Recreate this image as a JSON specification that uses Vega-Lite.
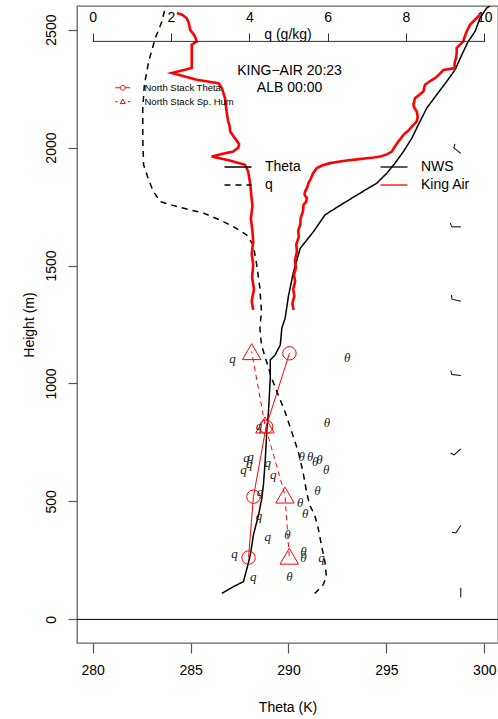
{
  "$schema": "https://vega.github.io/schema/vega-lite/v6.json",
  "width": 421,
  "height": 637,
  "autosize": {"type": "none"},
  "padding": {"left": 77, "top": 6, "right": 0, "bottom": 76},
  "title": {"text": ["KING−AIR 20:23", "ALB 00:00"], "orient": "top", "anchor": "middle", "offset": -89, "fontSize": 14, "fontWeight": "normal", "font": "Liberation Sans", "lineHeight": 17, "color": "black", "dx": 2},
  "datasets": {
    "profiles": [
      {"src":"NWS","var":"Theta","h":110,"v":286.60},{"src":"NWS","var":"Theta","h":139,"v":287.19},{"src":"NWS","var":"Theta","h":160,"v":287.70},{"src":"NWS","var":"Theta","h":216,"v":287.88},{"src":"NWS","var":"Theta","h":273,"v":288.05},{"src":"NWS","var":"Theta","h":358,"v":288.21},{"src":"NWS","var":"Theta","h":442,"v":288.47},{"src":"NWS","var":"Theta","h":513,"v":288.64},{"src":"NWS","var":"Theta","h":570,"v":288.72},{"src":"NWS","var":"Theta","h":670,"v":288.81},{"src":"NWS","var":"Theta","h":810,"v":288.90},{"src":"NWS","var":"Theta","h":881,"v":288.98},{"src":"NWS","var":"Theta","h":1022,"v":289.07},{"src":"NWS","var":"Theta","h":1100,"v":289.07},{"src":"NWS","var":"Theta","h":1121,"v":289.32},{"src":"NWS","var":"Theta","h":1163,"v":289.58},{"src":"NWS","var":"Theta","h":1234,"v":289.66},{"src":"NWS","var":"Theta","h":1277,"v":289.83},{"src":"NWS","var":"Theta","h":1371,"v":290.00},{"src":"NWS","var":"Theta","h":1475,"v":290.26},{"src":"NWS","var":"Theta","h":1573,"v":290.60},{"src":"NWS","var":"Theta","h":1644,"v":291.28},{"src":"NWS","var":"Theta","h":1715,"v":291.87},{"src":"NWS","var":"Theta","h":1764,"v":292.81},{"src":"NWS","var":"Theta","h":1807,"v":293.66},{"src":"NWS","var":"Theta","h":1849,"v":294.51},{"src":"NWS","var":"Theta","h":1891,"v":295.02},{"src":"NWS","var":"Theta","h":1934,"v":295.44},{"src":"NWS","var":"Theta","h":1983,"v":295.87},{"src":"NWS","var":"Theta","h":2040,"v":296.30},{"src":"NWS","var":"Theta","h":2096,"v":296.63},{"src":"NWS","var":"Theta","h":2167,"v":297.06},{"src":"NWS","var":"Theta","h":2224,"v":297.57},{"src":"NWS","var":"Theta","h":2280,"v":298.08},{"src":"NWS","var":"Theta","h":2330,"v":298.51},{"src":"NWS","var":"Theta","h":2393,"v":298.85},{"src":"NWS","var":"Theta","h":2450,"v":299.18},{"src":"NWS","var":"Theta","h":2492,"v":299.53},{"src":"NWS","var":"Theta","h":2549,"v":299.78},{"src":"NWS","var":"Theta","h":2591,"v":300.12},{"src":"NWS","var":"Theta","h":2620,"v":300.63},
      {"src":"King Air","var":"Theta","h":1312,"v":290.26},{"src":"King Air","var":"Theta","h":1340,"v":290.20},{"src":"King Air","var":"Theta","h":1370,"v":290.30},{"src":"King Air","var":"Theta","h":1400,"v":290.24},{"src":"King Air","var":"Theta","h":1432,"v":290.34},{"src":"King Air","var":"Theta","h":1460,"v":290.28},{"src":"King Air","var":"Theta","h":1490,"v":290.38},{"src":"King Air","var":"Theta","h":1520,"v":290.33},{"src":"King Air","var":"Theta","h":1559,"v":290.43},{"src":"King Air","var":"Theta","h":1590,"v":290.40},{"src":"King Air","var":"Theta","h":1620,"v":290.52},{"src":"King Air","var":"Theta","h":1650,"v":290.50},{"src":"King Air","var":"Theta","h":1672,"v":290.60},{"src":"King Air","var":"Theta","h":1700,"v":290.62},{"src":"King Air","var":"Theta","h":1730,"v":290.74},{"src":"King Air","var":"Theta","h":1757,"v":290.77},{"src":"King Air","var":"Theta","h":1770,"v":290.90},{"src":"King Air","var":"Theta","h":1785,"v":290.94},{"src":"King Air","var":"Theta","h":1800,"v":290.82},{"src":"King Air","var":"Theta","h":1814,"v":290.85},{"src":"King Air","var":"Theta","h":1830,"v":290.95},{"src":"King Air","var":"Theta","h":1849,"v":291.02},{"src":"King Air","var":"Theta","h":1870,"v":291.15},{"src":"King Air","var":"Theta","h":1890,"v":291.25},{"src":"King Air","var":"Theta","h":1913,"v":291.45},{"src":"King Air","var":"Theta","h":1925,"v":291.75},{"src":"King Air","var":"Theta","h":1934,"v":292.13},{"src":"King Air","var":"Theta","h":1940,"v":292.55},{"src":"King Air","var":"Theta","h":1945,"v":292.98},{"src":"King Air","var":"Theta","h":1950,"v":293.50},{"src":"King Air","var":"Theta","h":1955,"v":294.00},{"src":"King Air","var":"Theta","h":1958,"v":294.35},{"src":"King Air","var":"Theta","h":1962,"v":294.68},{"src":"King Air","var":"Theta","h":1970,"v":295.00},{"src":"King Air","var":"Theta","h":1983,"v":295.28},{"src":"King Air","var":"Theta","h":2000,"v":295.40},{"src":"King Air","var":"Theta","h":2026,"v":295.61},{"src":"King Air","var":"Theta","h":2040,"v":295.75},{"src":"King Air","var":"Theta","h":2054,"v":295.87},{"src":"King Air","var":"Theta","h":2070,"v":296.10},{"src":"King Air","var":"Theta","h":2089,"v":296.30},{"src":"King Air","var":"Theta","h":2111,"v":296.55},{"src":"King Air","var":"Theta","h":2130,"v":296.60},{"src":"King Air","var":"Theta","h":2153,"v":296.55},{"src":"King Air","var":"Theta","h":2170,"v":296.42},{"src":"King Air","var":"Theta","h":2181,"v":296.38},{"src":"King Air","var":"Theta","h":2209,"v":296.46},{"src":"King Air","var":"Theta","h":2225,"v":296.70},{"src":"King Air","var":"Theta","h":2238,"v":296.89},{"src":"King Air","var":"Theta","h":2266,"v":296.97},{"src":"King Air","var":"Theta","h":2280,"v":297.20},{"src":"King Air","var":"Theta","h":2294,"v":297.48},{"src":"King Air","var":"Theta","h":2310,"v":297.70},{"src":"King Air","var":"Theta","h":2329,"v":297.91},{"src":"King Air","var":"Theta","h":2337,"v":298.50},{"src":"King Air","var":"Theta","h":2350,"v":298.48},{"src":"King Air","var":"Theta","h":2365,"v":298.50},{"src":"King Air","var":"Theta","h":2380,"v":298.56},{"src":"King Air","var":"Theta","h":2400,"v":298.59},{"src":"King Air","var":"Theta","h":2422,"v":298.59},{"src":"King Air","var":"Theta","h":2435,"v":298.75},{"src":"King Air","var":"Theta","h":2450,"v":298.93},{"src":"King Air","var":"Theta","h":2470,"v":299.00},{"src":"King Air","var":"Theta","h":2492,"v":299.10},{"src":"King Air","var":"Theta","h":2520,"v":299.27},{"src":"King Air","var":"Theta","h":2549,"v":299.61},{"src":"King Air","var":"Theta","h":2563,"v":299.78},
      {"src":"NWS","var":"q","h":110,"v":5.67},{"src":"NWS","var":"q","h":145,"v":5.88},{"src":"NWS","var":"q","h":181,"v":5.97},{"src":"NWS","var":"q","h":245,"v":5.93},{"src":"NWS","var":"q","h":315,"v":5.84},{"src":"NWS","var":"q","h":386,"v":5.76},{"src":"NWS","var":"q","h":442,"v":5.67},{"src":"NWS","var":"q","h":485,"v":5.54},{"src":"NWS","var":"q","h":542,"v":5.46},{"src":"NWS","var":"q","h":626,"v":5.37},{"src":"NWS","var":"q","h":711,"v":5.25},{"src":"NWS","var":"q","h":796,"v":5.08},{"src":"NWS","var":"q","h":881,"v":4.91},{"src":"NWS","var":"q","h":951,"v":4.74},{"src":"NWS","var":"q","h":1022,"v":4.57},{"src":"NWS","var":"q","h":1093,"v":4.44},{"src":"NWS","var":"q","h":1163,"v":4.31},{"src":"NWS","var":"q","h":1234,"v":4.27},{"src":"NWS","var":"q","h":1305,"v":4.31},{"src":"NWS","var":"q","h":1404,"v":4.27},{"src":"NWS","var":"q","h":1503,"v":4.19},{"src":"NWS","var":"q","h":1587,"v":4.10},{"src":"NWS","var":"q","h":1630,"v":3.93},{"src":"NWS","var":"q","h":1665,"v":3.59},{"src":"NWS","var":"q","h":1693,"v":3.25},{"src":"NWS","var":"q","h":1722,"v":2.83},{"src":"NWS","var":"q","h":1750,"v":2.15},{"src":"NWS","var":"q","h":1771,"v":1.72},{"src":"NWS","var":"q","h":1814,"v":1.55},{"src":"NWS","var":"q","h":1863,"v":1.43},{"src":"NWS","var":"q","h":1927,"v":1.30},{"src":"NWS","var":"q","h":2040,"v":1.28},{"src":"NWS","var":"q","h":2167,"v":1.28},{"src":"NWS","var":"q","h":2266,"v":1.32},{"src":"NWS","var":"q","h":2365,"v":1.43},{"src":"NWS","var":"q","h":2464,"v":1.60},{"src":"NWS","var":"q","h":2535,"v":1.77},{"src":"NWS","var":"q","h":2591,"v":1.85},{"src":"NWS","var":"q","h":2620,"v":1.92},
      {"src":"King Air","var":"q","h":1312,"v":4.10},{"src":"King Air","var":"q","h":1350,"v":4.06},{"src":"King Air","var":"q","h":1400,"v":4.12},{"src":"King Air","var":"q","h":1450,"v":4.07},{"src":"King Air","var":"q","h":1503,"v":4.10},{"src":"King Air","var":"q","h":1550,"v":4.06},{"src":"King Air","var":"q","h":1600,"v":4.10},{"src":"King Air","var":"q","h":1644,"v":4.08},{"src":"King Air","var":"q","h":1700,"v":4.04},{"src":"King Air","var":"q","h":1750,"v":4.08},{"src":"King Air","var":"q","h":1785,"v":4.06},{"src":"King Air","var":"q","h":1850,"v":4.02},{"src":"King Air","var":"q","h":1899,"v":3.97},{"src":"King Air","var":"q","h":1927,"v":3.89},{"src":"King Air","var":"q","h":1945,"v":3.50},{"src":"King Air","var":"q","h":1962,"v":3.04},{"src":"King Air","var":"q","h":1975,"v":3.35},{"src":"King Air","var":"q","h":1983,"v":3.59},{"src":"King Air","var":"q","h":2000,"v":3.72},{"src":"King Air","var":"q","h":2015,"v":3.74},{"src":"King Air","var":"q","h":2040,"v":3.63},{"src":"King Air","var":"q","h":2068,"v":3.51},{"src":"King Air","var":"q","h":2090,"v":3.50},{"src":"King Air","var":"q","h":2111,"v":3.46},{"src":"King Air","var":"q","h":2153,"v":3.42},{"src":"King Air","var":"q","h":2180,"v":3.40},{"src":"King Air","var":"q","h":2209,"v":3.38},{"src":"King Air","var":"q","h":2252,"v":3.30},{"src":"King Air","var":"q","h":2273,"v":3.21},{"src":"King Air","var":"q","h":2287,"v":2.66},{"src":"King Air","var":"q","h":2316,"v":2.02},{"src":"King Air","var":"q","h":2337,"v":2.53},{"src":"King Air","var":"q","h":2380,"v":2.53},{"src":"King Air","var":"q","h":2436,"v":2.53},{"src":"King Air","var":"q","h":2450,"v":2.66},{"src":"King Air","var":"q","h":2475,"v":2.60},{"src":"King Air","var":"q","h":2499,"v":2.49},{"src":"King Air","var":"q","h":2530,"v":2.45},{"src":"King Air","var":"q","h":2549,"v":2.40},{"src":"King Air","var":"q","h":2563,"v":2.28},{"src":"King Air","var":"q","h":2570,"v":2.15}
    ],
    "stack": [
      {"series":"North Stack Theta","h":262,"v":287.96},{"series":"North Stack Theta","h":520,"v":288.21},{"series":"North Stack Theta","h":817,"v":288.86},{"series":"North Stack Theta","h":1128,"v":290.05},
      {"series":"North Stack Sp. Hum","h":268,"v":5.02},{"series":"North Stack Sp. Hum","h":527,"v":4.91},{"series":"North Stack Sp. Hum","h":824,"v":4.40},{"series":"North Stack Sp. Hum","h":1135,"v":4.06}
    ],
    "letters": [
      {"sym":"θ","h":1107,"v":293.0},{"sym":"θ","h":831,"v":291.96},{"sym":"θ","h":690,"v":290.68},{"sym":"θ","h":690,"v":291.11},{"sym":"θ","h":669,"v":291.36},{"sym":"θ","h":676,"v":291.58},{"sym":"θ","h":633,"v":291.92},{"sym":"θ","h":544,"v":291.48},{"sym":"θ","h":492,"v":290.60},{"sym":"θ","h":445,"v":290.85},{"sym":"θ","h":358,"v":289.95},{"sym":"θ","h":287,"v":290.77},{"sym":"θ","h":262,"v":290.77},{"sym":"θ","h":181,"v":290.05},
      {"sym":"q","h":1104,"v":3.57},{"sym":"q","h":821,"v":4.25},{"sym":"q","h":686,"v":3.93},{"sym":"q","h":690,"v":4.03},{"sym":"q","h":633,"v":3.85},{"sym":"q","h":657,"v":4.00},{"sym":"q","h":665,"v":4.47},{"sym":"q","h":612,"v":4.61},{"sym":"q","h":542,"v":4.27},{"sym":"q","h":440,"v":4.25},{"sym":"q","h":351,"v":4.47},{"sym":"q","h":276,"v":3.62},{"sym":"q","h":181,"v":4.10},{"sym":"q","h":259,"v":5.84}
    ],
    "barbs": [
      {"h":1975,"dir":309,"barb":"half"},{"h":1664,"dir":270,"barb":"half"},{"h":1349,"dir":283,"barb":"half"},{"h":1034,"dir":276,"barb":"half"},{"h":723,"dir":228,"barb":"half"},{"h":398,"dir":213,"barb":"half"},{"h":134,"dir":180,"barb":"none"}
    ]
  },
  "layer": [
    {
      "layer": [
        {
          "encoding": {
            "x": {"field": "v", "type": "quantitative", "scale": {"domain": [279.2, 300.7], "nice": false, "zero": false},
              "axis": {"orient": "bottom", "values": [280, 285, 290, 295, 300], "tickSize": 10, "tickColor": "#555", "tickWidth": 1.2, "domain": false, "grid": false, "labelFont": "Liberation Sans", "labelFontSize": 14, "labelColor": "black", "labelPadding": 10, "title": "Theta (K)", "titleFont": "Liberation Sans", "titleFontSize": 14, "titleFontWeight": "normal", "titleColor": "black", "titlePadding": 23}},
            "y": {"field": "h", "type": "quantitative", "scale": {"domain": [-100, 2600], "nice": false, "zero": false},
              "axis": {"values": [0, 500, 1000, 1500, 2000, 2500], "format": "d", "labelAngle": 270, "labelAlign": "center", "labelBaseline": "bottom", "tickSize": 9, "tickColor": "#555", "tickWidth": 1.2, "domain": false, "grid": false, "labelFont": "Liberation Sans", "labelFontSize": 14, "labelColor": "black", "labelPadding": 10, "title": "Height (m)", "titleFont": "Liberation Sans", "titleFontSize": 14, "titleFontWeight": "normal", "titleColor": "black", "titlePadding": 8}}
          },
          "layer": [
            {"data": {"name": "profiles"}, "transform": [{"filter": "datum.src === 'NWS' && datum.var === 'Theta'"}],
              "mark": {"type": "line", "strokeWidth": 1.5, "clip": true},
              "encoding": {"order": {"field": "h", "type": "quantitative"},
                "color": {"field": "src", "type": "nominal", "scale": {"domain": ["NWS", "King Air"], "range": ["black", "red"]},
                  "legend": {"orient": "none", "legendX": 310, "legendY": 154, "title": null, "symbolType": "M-2.25,0L2.25,0", "symbolSize": 144, "symbolStrokeWidth": 1.3, "labelFont": "Liberation Sans", "labelFontSize": 14, "labelColor": "black", "labelOffset": 20, "rowPadding": 4, "padding": 0}},
                "strokeDash": {"field": "var", "type": "nominal", "scale": {"domain": ["Theta", "q"], "range": [[1, 0], [6, 5]]},
                  "legend": {"orient": "none", "legendX": 154, "legendY": 154, "title": null, "symbolType": "M-2.25,0L2.25,0", "symbolSize": 144, "symbolStrokeWidth": 1.3, "symbolStrokeColor": "black", "labelFont": "Liberation Sans", "labelFontSize": 14, "labelColor": "black", "labelOffset": 20, "rowPadding": 4, "padding": 0}}}},
            {"data": {"name": "profiles"}, "transform": [{"filter": "datum.src === 'King Air' && datum.var === 'Theta'"}],
              "mark": {"type": "line", "strokeWidth": 2.6, "color": "red", "clip": true},
              "encoding": {"order": {"field": "h", "type": "quantitative"}}},
            {"data": {"name": "stack"}, "transform": [{"filter": "datum.series === 'North Stack Theta'"}],
              "mark": {"type": "line", "strokeWidth": 1, "color": "red"},
              "encoding": {"order": {"field": "h", "type": "quantitative"}}},
            {"data": {"name": "stack"}, "transform": [{"filter": "datum.series === 'North Stack Theta'"}],
              "mark": {"type": "point", "shape": "circle", "filled": false, "color": "red", "strokeWidth": 1, "size": 180, "opacity": 1}},
            {"data": {"name": "stack"}, "transform": [{"filter": "datum.h < 0"}],
              "mark": {"type": "point", "filled": false, "color": "red", "strokeWidth": 1, "opacity": 1},
              "encoding": {"shape": {"field": "series", "type": "nominal",
                "scale": {"domain": ["North Stack Theta", "North Stack Sp. Hum"], "range": ["M-2.5,0L-0.8,0M0.8,0L2.5,0M-0.8,0A0.8,0.8,0,1,1,0.8,0A0.8,0.8,0,1,1,-0.8,0", "M-2.5,0L-1.7,0M1.7,0L2.5,0M0,-0.9L0.85,0.6L-0.85,0.6Z"]},
                "legend": {"orient": "none", "legendX": 41, "legendY": 77, "title": null, "symbolSize": 36, "symbolStrokeColor": "red", "symbolFillColor": "transparent", "symbolStrokeWidth": 1, "symbolOpacity": 1, "labelFont": "Liberation Sans", "labelFontSize": 9.5, "labelColor": "black", "labelOffset": 17, "rowPadding": 3, "padding": 0}}}},
            {"data": {"name": "letters"}, "transform": [{"filter": "datum.sym === 'θ'"}],
              "mark": {"type": "text", "font": "Liberation Serif", "fontStyle": "italic", "fontSize": 13, "color": "#222"},
              "encoding": {"text": {"field": "sym"}}}
          ]
        },
        {"data": {"values": [{}]}, "mark": {"type": "rule", "color": "black", "strokeWidth": 1},
          "encoding": {"y": {"datum": 0, "type": "quantitative", "scale": {"domain": [-100, 2600], "nice": false, "zero": false},
            "axis": {"values": [0, 500, 1000, 1500, 2000, 2500], "format": "d", "labelAngle": 270, "labelAlign": "center", "labelBaseline": "bottom", "tickSize": 9, "tickColor": "#555", "tickWidth": 1.2, "domain": false, "grid": false, "labelFont": "Liberation Sans", "labelFontSize": 14, "labelColor": "black", "labelPadding": 10, "title": "Height (m)", "titleFont": "Liberation Sans", "titleFontSize": 14, "titleFontWeight": "normal", "titleColor": "black", "titlePadding": 8}}}},
        {"data": {"name": "barbs"}, "transform": [{"filter": "datum.barb === 'half'"}],
          "mark": {"type": "point", "shape": "M0,0L0,-1.8L0.75,-2.1", "filled": false, "color": "black", "strokeWidth": 1, "size": 100, "opacity": 1},
          "encoding": {
            "x": {"datum": 298.8, "type": "quantitative", "scale": {"domain": [279.2, 300.7], "nice": false, "zero": false},
              "axis": {"orient": "bottom", "values": [280, 285, 290, 295, 300], "tickSize": 10, "tickColor": "#555", "tickWidth": 1.2, "domain": false, "grid": false, "labelFont": "Liberation Sans", "labelFontSize": 14, "labelColor": "black", "labelPadding": 10, "title": "Theta (K)", "titleFont": "Liberation Sans", "titleFontSize": 14, "titleFontWeight": "normal", "titleColor": "black", "titlePadding": 23}},
            "y": {"field": "h", "type": "quantitative", "scale": {"domain": [-100, 2600], "nice": false, "zero": false},
              "axis": {"values": [0, 500, 1000, 1500, 2000, 2500], "format": "d", "labelAngle": 270, "labelAlign": "center", "labelBaseline": "bottom", "tickSize": 9, "tickColor": "#555", "tickWidth": 1.2, "domain": false, "grid": false, "labelFont": "Liberation Sans", "labelFontSize": 14, "labelColor": "black", "labelPadding": 10, "title": "Height (m)", "titleFont": "Liberation Sans", "titleFontSize": 14, "titleFontWeight": "normal", "titleColor": "black", "titlePadding": 8}},
            "angle": {"field": "dir", "type": "quantitative", "scale": null}}},
        {"data": {"name": "barbs"}, "transform": [{"filter": "datum.barb === 'none'"}],
          "mark": {"type": "point", "shape": "M0,0L0,-1.9", "filled": false, "color": "black", "strokeWidth": 1, "size": 100, "opacity": 1},
          "encoding": {
            "x": {"datum": 298.8, "type": "quantitative", "scale": {"domain": [279.2, 300.7], "nice": false, "zero": false},
              "axis": {"orient": "bottom", "values": [280, 285, 290, 295, 300], "tickSize": 10, "tickColor": "#555", "tickWidth": 1.2, "domain": false, "grid": false, "labelFont": "Liberation Sans", "labelFontSize": 14, "labelColor": "black", "labelPadding": 10, "title": "Theta (K)", "titleFont": "Liberation Sans", "titleFontSize": 14, "titleFontWeight": "normal", "titleColor": "black", "titlePadding": 23}},
            "y": {"field": "h", "type": "quantitative", "scale": {"domain": [-100, 2600], "nice": false, "zero": false},
              "axis": {"values": [0, 500, 1000, 1500, 2000, 2500], "format": "d", "labelAngle": 270, "labelAlign": "center", "labelBaseline": "bottom", "tickSize": 9, "tickColor": "#555", "tickWidth": 1.2, "domain": false, "grid": false, "labelFont": "Liberation Sans", "labelFontSize": 14, "labelColor": "black", "labelPadding": 10, "title": "Height (m)", "titleFont": "Liberation Sans", "titleFontSize": 14, "titleFontWeight": "normal", "titleColor": "black", "titlePadding": 8}},
            "angle": {"field": "dir", "type": "quantitative", "scale": null}}}
      ]
    },
    {
      "layer": [
        {
          "encoding": {
            "x": {"field": "v", "type": "quantitative", "scale": {"domain": [-0.4, 10.35], "nice": false, "zero": false},
              "axis": {"orient": "top", "offset": -35.5, "values": [0, 2, 4, 6, 8, 10], "tickSize": 8.5, "tickColor": "#333", "tickWidth": 1, "domain": false, "grid": false, "labelFont": "Liberation Sans", "labelFontSize": 14, "labelColor": "black", "labelPadding": 9, "title": "q (g/kg)", "titleFont": "Liberation Sans", "titleFontSize": 14, "titleFontWeight": "normal", "titleColor": "black", "titleY": -3, "titleBaseline": "alphabetic"}},
            "y": {"field": "h", "type": "quantitative", "scale": {"domain": [-100, 2600], "nice": false, "zero": false},
              "axis": {"values": [0, 500, 1000, 1500, 2000, 2500], "format": "d", "labelAngle": 270, "labelAlign": "center", "labelBaseline": "bottom", "tickSize": 9, "tickColor": "#555", "tickWidth": 1.2, "domain": false, "grid": false, "labelFont": "Liberation Sans", "labelFontSize": 14, "labelColor": "black", "labelPadding": 10, "title": "Height (m)", "titleFont": "Liberation Sans", "titleFontSize": 14, "titleFontWeight": "normal", "titleColor": "black", "titlePadding": 8}}
          },
          "layer": [
            {"data": {"name": "profiles"}, "transform": [{"filter": "datum.src === 'NWS' && datum.var === 'q'"}],
              "mark": {"type": "line", "strokeWidth": 1.5, "color": "black", "strokeDash": [6, 5], "clip": true},
              "encoding": {"order": {"field": "h", "type": "quantitative"}}},
            {"data": {"name": "profiles"}, "transform": [{"filter": "datum.src === 'King Air' && datum.var === 'q'"}],
              "mark": {"type": "line", "strokeWidth": 2.6, "color": "red", "clip": true},
              "encoding": {"order": {"field": "h", "type": "quantitative"}}},
            {"data": {"name": "stack"}, "transform": [{"filter": "datum.series === 'North Stack Sp. Hum'"}],
              "mark": {"type": "line", "strokeWidth": 1, "color": "red", "strokeDash": [5, 4]},
              "encoding": {"order": {"field": "h", "type": "quantitative"}}},
            {"data": {"name": "stack"}, "transform": [{"filter": "datum.series === 'North Stack Sp. Hum'"}],
              "mark": {"type": "point", "shape": "triangle-up", "filled": false, "color": "red", "strokeWidth": 1, "size": 340, "opacity": 1}},
            {"data": {"name": "letters"}, "transform": [{"filter": "datum.sym === 'q'"}],
              "mark": {"type": "text", "font": "Liberation Serif", "fontStyle": "italic", "fontSize": 13, "color": "#222"},
              "encoding": {"text": {"field": "sym"}}}
          ]
        },
        {"data": {"values": [{}]}, "mark": {"type": "rule", "color": "#333", "strokeWidth": 1},
          "encoding": {
            "x": {"datum": 0, "type": "quantitative", "scale": {"domain": [-0.4, 10.35], "nice": false, "zero": false},
              "axis": {"orient": "top", "offset": -35.5, "values": [0, 2, 4, 6, 8, 10], "tickSize": 8.5, "tickColor": "#333", "tickWidth": 1, "domain": false, "grid": false, "labelFont": "Liberation Sans", "labelFontSize": 14, "labelColor": "black", "labelPadding": 9, "title": "q (g/kg)", "titleFont": "Liberation Sans", "titleFontSize": 14, "titleFontWeight": "normal", "titleColor": "black", "titleY": -3, "titleBaseline": "alphabetic"}},
            "x2": {"datum": 10},
            "y": {"datum": 2450, "type": "quantitative", "scale": {"domain": [-100, 2600], "nice": false, "zero": false},
              "axis": {"values": [0, 500, 1000, 1500, 2000, 2500], "format": "d", "labelAngle": 270, "labelAlign": "center", "labelBaseline": "bottom", "tickSize": 9, "tickColor": "#555", "tickWidth": 1.2, "domain": false, "grid": false, "labelFont": "Liberation Sans", "labelFontSize": 14, "labelColor": "black", "labelPadding": 10, "title": "Height (m)", "titleFont": "Liberation Sans", "titleFontSize": 14, "titleFontWeight": "normal", "titleColor": "black", "titlePadding": 8}}}}
      ]
    }
  ],
  "resolve": {"scale": {"x": "independent"}, "axis": {"x": "independent"}},
  "config": {
    "view": {"stroke": "#666", "strokeWidth": 1.3},
    "font": "Liberation Sans"
  }
}
